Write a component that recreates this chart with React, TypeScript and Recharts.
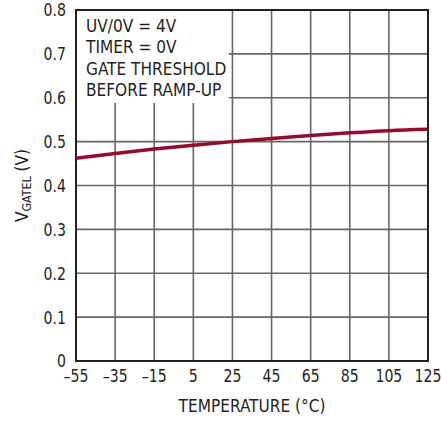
import React from "react";
import {
  LineChart,
  Line,
  XAxis,
  YAxis,
  CartesianGrid,
  ReferenceArea,
} from "recharts";

const temperatures = [-55, -35, -15, 5, 25, 45, 65, 85, 105, 125];
const vGatel = [0.462, 0.473, 0.483, 0.492, 0.5, 0.507, 0.514, 0.52, 0.525, 0.528];
const yTicks = [0, 0.1, 0.2, 0.3, 0.4, 0.5, 0.6, 0.7, 0.8];
const noteLines = ["UV/0V = 4V", "TIMER = 0V", "GATE THRESHOLD", "BEFORE RAMP-UP"];

const data = temperatures.map((t, i) => ({ t, v: vGatel[i] }));

const FONT = '"DejaVu Sans Condensed", "DejaVu Sans", sans-serif';
const INK = "#231f20";
const GRID = "#666666";
const LINE = "#920c31";
const NUM_SX = 0.87; // digits are narrower in the reference face
const TXT_SX = 0.95;

const fmtX = (v: number) => String(v).replace("-", "\u2013");
const fmtY = (v: number) => (v === 0 ? "0" : v.toFixed(1));

function XTick(props: any) {
  const { x, y, payload } = props;
  return (
    <text
      transform={`translate(${x}, ${y + 13}) scale(${NUM_SX}, 1)`}
      textAnchor="middle"
      fill={INK}
      fontFamily={FONT}
      fontSize={18}
    >
      {fmtX(payload.value)}
    </text>
  );
}

function YTick(props: any) {
  const { x, y, payload } = props;
  return (
    <text
      transform={`translate(${x - 2}, ${y}) scale(${NUM_SX}, 1)`}
      textAnchor="end"
      dominantBaseline="central"
      fill={INK}
      fontFamily={FONT}
      fontSize={18}
    >
      {fmtY(payload.value)}
    </text>
  );
}

function NoteLabel(props: any) {
  const { x, y } = props.viewBox || {};
  return (
    <g transform={`translate(${x + 10}, ${y}) scale(${TXT_SX}, 1)`}>
      <text x={0} y={0} fill={INK} fontFamily={FONT} fontSize={18}>
        {noteLines.map((s, i) => (
          <tspan key={i} x={0} dy={i === 0 ? 22 : 21.5}>
            {s}
          </tspan>
        ))}
      </text>
    </g>
  );
}

function XLabel(props: any) {
  const { x, y, width, height } = props.viewBox || {};
  const cx = x + width / 2;
  const cy = y + height - 9;
  return (
    <text
      transform={`translate(${cx}, ${cy}) scale(${TXT_SX}, 1)`}
      textAnchor="middle"
      fill={INK}
      fontFamily={FONT}
      fontSize={18}
    >
      TEMPERATURE (°C)
    </text>
  );
}

function YLabel(props: any) {
  const { x, y, height } = props.viewBox || {};
  const cx = x + 22;
  const cy = y + height / 2;
  return (
    <text
      transform={`translate(${cx}, ${cy}) rotate(-90) scale(${TXT_SX}, 1)`}
      textAnchor="middle"
      dominantBaseline="central"
      fill={INK}
      fontFamily={FONT}
      fontSize={18}
    >
      <tspan>V</tspan>
      <tspan fontSize={13} dy={4}>GATEL</tspan>
      <tspan dy={-4}> (V)</tspan>
    </text>
  );
}

export default function App() {
  return (
    <div style={{ position: "absolute", left: 0, top: 0, background: "#fff" }}>
      <LineChart
        width={441}
        height={421}
        data={data}
        margin={{ top: 10, right: 13, left: 0, bottom: 0 }}
      >
        <CartesianGrid stroke={GRID} strokeWidth={1.6} />
        <XAxis
          dataKey="t"
          type="number"
          domain={[-55, 125]}
          ticks={temperatures}
          axisLine={false}
          tickLine={false}
          height={60}
          tick={<XTick />}
          label={<XLabel />}
        />
        <YAxis
          type="number"
          domain={[0, 0.8]}
          ticks={yTicks}
          axisLine={false}
          tickLine={false}
          width={76}
          tick={<YTick />}
          label={<YLabel />}
        />
        <ReferenceArea
          x1={-55}
          x2={23.2}
          y1={0.588}
          y2={0.8}
          fill="#fff"
          fillOpacity={1}
          stroke="none"
          label={<NoteLabel />}
        />
        <ReferenceArea
          x1={-55}
          x2={125}
          y1={0}
          y2={0.8}
          fill="none"
          stroke={INK}
          strokeWidth={2}
        />
        <Line
          dataKey="v"
          type="monotone"
          stroke={LINE}
          strokeWidth={3.5}
          dot={false}
          isAnimationActive={false}
        />
      </LineChart>
    </div>
  );
}
